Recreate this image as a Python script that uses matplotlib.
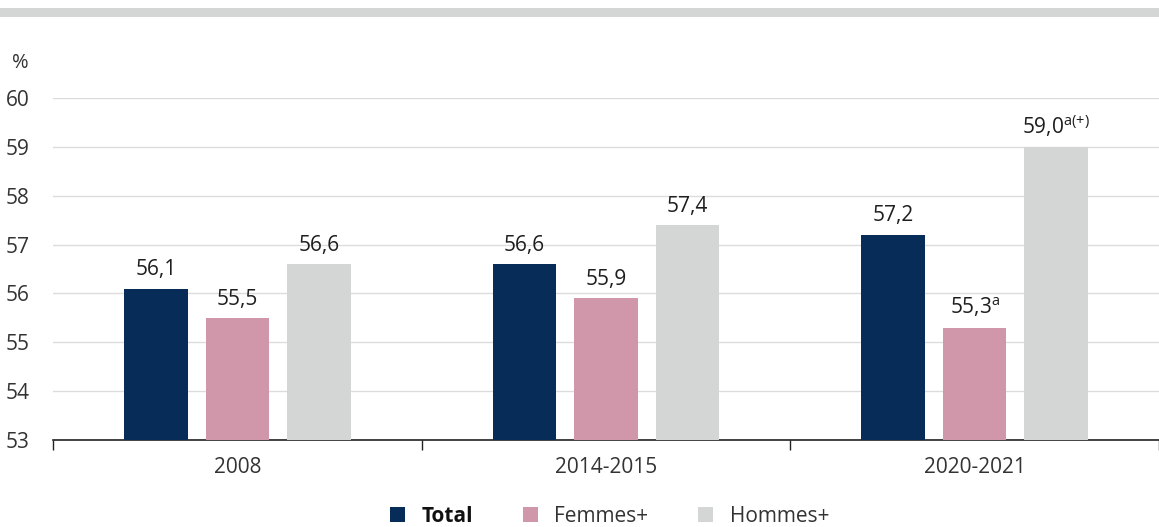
import matplotlib
matplotlib.use("Agg")
import matplotlib.pyplot as plt
from matplotlib.patches import Patch, Rectangle
import numpy as np

plt.rcParams["font.family"] = ["Open Sans", "DejaVu Sans"]
plt.rcParams["mathtext.fontset"] = "custom"
plt.rcParams["mathtext.rm"] = "Open Sans"

periods = ["2008", "2014-2015", "2020-2021"]
series = ["Total", "Femmes+", "Hommes+"]
total = [56.1, 56.6, 57.2]
femmes = [55.5, 55.9, 55.3]
hommes = [56.6, 57.4, 59.0]
notes_total = ["", "", ""]
notes_femmes = ["", "", "a"]
notes_hommes = ["", "", "a(+)"]
yticks = [53, 54, 55, 56, 57, 58, 59, 60]

colors = ["#072c57", "#d096a9", "#d4d5d5"]
text_color = "#1e1e1e"
FS = 15

fig = plt.figure(figsize=(11.59, 5.27), dpi=100)
ax = fig.add_axes([53 / 1159, 1 - 440 / 527, 1 - 53 / 1159, (440 - 98) / 527])

# top decorative band
fig.patches.append(Rectangle((0, 1 - 17 / 527), 1, 9 / 527, transform=fig.transFigure,
                             facecolor="#d4d5d5", edgecolor="none"))

x = np.arange(len(periods))
width = 0.172
offset = 0.221

def fmt(v, note):
    s = f"{v:.1f}".replace(".", ",")
    if note:
        s += r"$^{\mathregular{" + note.replace("+", "{+}") + "}}$"
    return s

for i, (vals, notes, col) in enumerate(zip([total, femmes, hommes],
                                           [notes_total, notes_femmes, notes_hommes], colors)):
    pos = x + (i - 1) * offset
    ax.bar(pos, np.array(vals) - 53, width, bottom=53, color=col, zorder=3)
    for p, v, n in zip(pos, vals, notes):
        ax.annotate(fmt(v, n), (p, v), xytext=(0, 6), textcoords="offset points",
                    ha="center", va="bottom", fontsize=FS, color=text_color)

ax.set_xlim(-0.5, 2.5)
ax.set_ylim(53, 60)
ax.set_yticks(yticks)
ax.set_yticklabels([str(t) for t in yticks], fontsize=FS, color="#333333")
ax.tick_params(axis="y", length=0, pad=17)
ax.yaxis.grid(True, color="#dcdcdc", linewidth=1, zorder=0)
ax.set_axisbelow(True)

ax.set_xticks(x)
ax.set_xticklabels(periods, fontsize=FS, color="#333333")
ax.tick_params(axis="x", which="major", length=0, pad=12)
ax.set_xticks([-0.5, 0.5, 1.5, 2.5], minor=True)
ax.tick_params(axis="x", which="minor", length=7, width=1, color="#222222")

for s in ["top", "right", "left"]:
    ax.spines[s].set_visible(False)
ax.spines["bottom"].set_color("#222222")
ax.spines["bottom"].set_linewidth(1.2)

fig.text(12 / 1159, 1 - 63 / 527, "%", fontsize=FS - 0.5, color="#333333", va="center", ha="left")

handles = [Patch(facecolor=c, edgecolor="none") for c in colors]
leg = fig.legend(handles, series, loc="center", bbox_to_anchor=(0.526, 1 - 516 / 527),
                 ncol=3, frameon=False, fontsize=FS, handlelength=0.7, handleheight=0.7,
                 handletextpad=0.8, columnspacing=2.4, borderaxespad=0, borderpad=0)
for t in leg.get_texts():
    t.set_color("#333333")
leg.get_texts()[0].set_fontweight("bold")
leg.get_texts()[0].set_color("#111111")

fig.savefig("out.png", dpi=100)
